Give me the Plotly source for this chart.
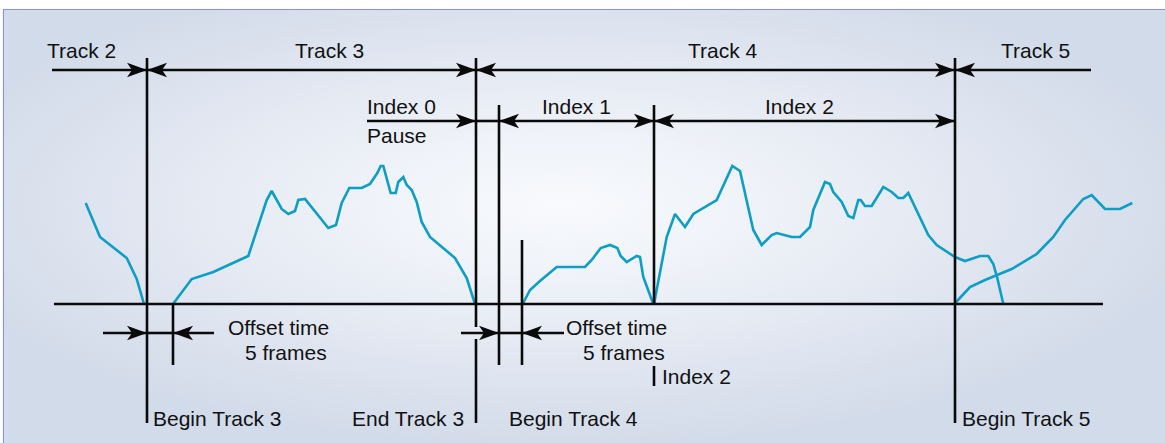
import base64
import plotly.graph_objects as go

# ---------------- data (x in time units ~ px, y = level above baseline) ----------------
tail2_x = [85.7, 100, 126.7, 136.7, 144]
tail2_y = [101, 67, 46, 25, 0]

track3_x = [173, 191.7, 213.3, 248.3, 266.7, 271.7, 281.7, 288.3, 295, 298.3, 305, 328.3, 336,
            341.7, 349.3, 361.7, 370, 377.3, 380.7, 383.3, 390.7, 395.7, 398.3, 403.3, 406.7,
            411.7, 416.7, 421.7, 430, 455, 466.7, 475]
track3_y = [0, 25, 32, 48, 104, 113, 95, 90, 93, 104, 105, 76, 79, 101, 116, 116, 120, 131,
            138, 138, 111, 111, 122, 127, 119, 114, 102, 82, 67, 46, 26, 0]

index1_x = [522.7, 530, 540, 556.7, 585, 591.7, 600.7, 610, 617.3, 620.7, 626.7, 636.7, 640,
            643.3, 653.3]
index1_y = [0, 14, 23, 37, 37, 44, 56, 59, 56, 48, 42, 48, 47, 27, 0]

index2_x = [654, 666.7, 675, 685, 693.3, 716.7, 732.3, 740, 753.3, 761.7, 771.7, 776.7, 791.7,
            800, 810, 813.3, 825, 830, 833.3, 841.7, 848.3, 853.3, 858.3, 860.7, 865, 871.7,
            883.3, 891.7, 898.3, 903.3, 908.3, 928.3, 936.7, 955, 965, 980, 988.3, 993.3,
            997.3, 1003.3]
index2_y = [0, 67, 90, 77, 90, 104, 138, 133, 74, 59, 69, 71, 67, 67, 77, 94, 122, 120, 112,
            102, 88, 86, 104, 104, 98, 98, 117, 112, 106, 106, 111, 69, 59, 47, 43, 48, 48, 40,
            26, 0]

track5_x = [954.3, 970, 985, 1011.7, 1036.7, 1053.3, 1065, 1083.3, 1091.7, 1105, 1120, 1132.3]
track5_y = [0, 17, 24, 35, 50, 67, 84, 105, 109, 95, 95, 101]

# structural positions
baseline = [54, 1103]
row_track, row_index, row_offset = 234, 183, -29
# vertical markers: (x, y_top, y_bottom)
verticals = [
    (147, 246, -119), (173, 0, -61), (476, 246, -23), (476, -35, -119),
    (499, 199, -61), (522, 64, -61), (654, 199, 0), (654, -62, -82), (955, 246, -119),
]
# arrows: (x_from, x_to, y, head_at_from, head_at_to)
arrows = [
    (52, 147, row_track, False, True),
    (147, 476, row_track, True, True),
    (476, 955, row_track, True, True),
    (955, 1091, row_track, True, False),
    (367, 476, row_index, False, True),
    (476, 499, row_index, False, False),
    (499, 654, row_index, True, True),
    (654, 955, row_index, True, True),
    (103, 147, row_offset, False, True),
    (147, 173, row_offset, False, False),
    (173, 214, row_offset, True, False),
    (461, 499, row_offset, False, True),
    (499, 522, row_offset, False, False),
    (522, 564, row_offset, True, False),
]
# labels: (text, x, y, anchor)
labels = [
    ("Track 2", 81, 254, "center"), ("Track 3", 329, 254, "center"),
    ("Track 4", 723, 254, "center"), ("Track 5", 1035, 254, "center"),
    ("Index 0", 366, 198, "left"), ("Pause", 366, 169, "left"),
    ("Index 1", 576, 198, "center"), ("Index 2", 799, 198, "center"),
    ("Offset time", 227, -23, "left"), ("5 frames", 244, -48, "left"),
    ("Offset time", 565, -23, "left"), ("5 frames", 582, -48, "left"),
    ("Index 2", 661, -72, "left"),
    ("Begin Track 3", 152, -114, "left"), ("End Track 3", 351, -114, "left"),
    ("Begin Track 4", 508, -114, "left"), ("Begin Track 5", 961, -114, "left"),
]

WAVE = "#0d9ec5"
INK = "#0a0a0a"
FONT = "Liberation Sans, Arial, Helvetica, sans-serif"

fig = go.Figure()
for xs, ys in [(tail2_x, tail2_y), (track3_x, track3_y), (index1_x, index1_y),
               (index2_x, index2_y), (track5_x, track5_y)]:
    fig.add_trace(go.Scatter(x=xs, y=ys, mode="lines",
                             line=dict(color=WAVE, width=2.6), hoverinfo="skip"))

shapes = []
# background border
shapes.append(dict(type="rect", xref="x", yref="y", x0=3.5, x1=1170, y0=-150, y1=294.5,
                   line=dict(color="#8597c4", width=1.2), fillcolor="rgba(0,0,0,0)", layer="below"))
shapes.append(dict(type="line", xref="x", yref="y", x0=baseline[0], x1=baseline[1], y0=0, y1=0,
                   line=dict(color=INK, width=2.6)))
for x, yt, yb in verticals:
    shapes.append(dict(type="line", xref="x", yref="y", x0=x, x1=x, y0=yt, y1=yb,
                       line=dict(color=INK, width=2.6)))

L, W, N = 20, 7.3, 15


def head(xt, y, d):
    return (f"M {xt},{y} L {xt - d * L},{y + W} L {xt - d * N},{y} "
            f"L {xt - d * L},{y - W} Z")


for x0, x1, y, h0, h1 in arrows:
    shapes.append(dict(type="line", xref="x", yref="y", x0=x0, x1=x1, y0=y, y1=y,
                       line=dict(color=INK, width=2.6)))
    d = 1 if x1 > x0 else -1
    if h1:
        shapes.append(dict(type="path", xref="x", yref="y", path=head(x1, y, d),
                           fillcolor=INK, line=dict(width=0)))
    if h0:
        shapes.append(dict(type="path", xref="x", yref="y", path=head(x0, y, -d),
                           fillcolor=INK, line=dict(width=0)))

annotations = [dict(text=t, x=x, y=y, xref="x", yref="y", xanchor=a, yanchor="middle",
                    showarrow=False, font=dict(family=FONT, size=21, color="#111111"),
                    borderpad=0)
               for t, x, y, a in labels]

svg = ('<svg xmlns="http://www.w3.org/2000/svg" width="1162" height="434" '
       'viewBox="0 0 1162 434" preserveAspectRatio="none"><defs>'
       '<radialGradient id="g" cx="0.48" cy="0.45" r="0.56">'
       '<stop offset="0" stop-color="#f8fafd"/><stop offset="0.3" stop-color="#eff2f8"/>'
       '<stop offset="0.7" stop-color="#dfe5f0"/><stop offset="1" stop-color="#d2dbe9"/>'
       '</radialGradient></defs><rect width="1162" height="434" fill="url(#g)"/></svg>')
src = "data:image/svg+xml;base64," + base64.b64encode(svg.encode()).decode()

fig.update_layout(
    width=1165, height=443, margin=dict(l=0, r=0, t=0, b=0),
    paper_bgcolor="white", plot_bgcolor="rgba(0,0,0,0)", showlegend=False,
    xaxis=dict(range=[0, 1165], visible=False, fixedrange=True),
    yaxis=dict(range=[-139, 304], visible=False, fixedrange=True),
    shapes=shapes, annotations=annotations,
    images=[dict(source=src, xref="x", yref="y", x=4, y=294, sizex=1162, sizey=434,
                 sizing="stretch", xanchor="left", yanchor="top", layer="below")],
)
fig.write_html("out.html", config=dict(displayModeBar=False),
               post_script="document.body.style.margin='0';document.body.style.overflow='hidden';")
